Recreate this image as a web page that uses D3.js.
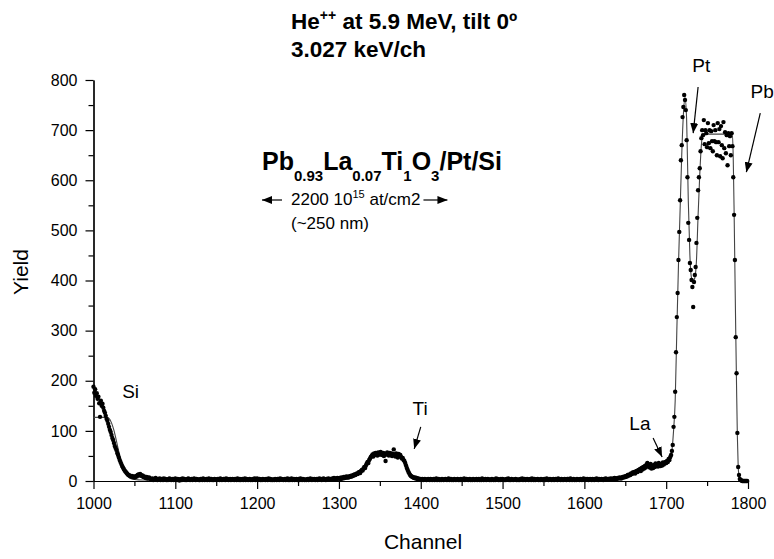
<!DOCTYPE html>
<html>
<head>
<meta charset="utf-8">
<script src="https://cdn.jsdelivr.net/npm/d3@7"></script>
<style>
  body { margin: 0; background: #fff; }
  svg text { font-family: "Liberation Sans", Arial, sans-serif; fill: #000; }
</style>
</head>
<body>
<svg id="chart" width="774" height="559"></svg>
<script>
  // measured spectrum, one value per channel
  var siStart = 1000;
  var siCounts = [
    188, 176, 183, 170, 175, 164, 168, 155, 128, 160,
    150, 154, 146, 140, 136, 130, 124, 120, 114, 108,
    102, 98, 92, 86, 82, 76, 70, 66, 62, 56,
    52, 47, 42, 38, 34, 30, 27, 24, 21, 19,
    17, 15, 13, 12, 11, 10, 9, 10, 8, 9,
    7, 8, 10, 9, 12, 13, 11, 14, 12, 10,
    11, 8, 9, 7, 6, 8, 5, 6, 7, 5
  ];

  var lowBgStart = 1070;
  var lowBgCounts = [
    4, 3, 5, 2, 4, 3, 6, 3, 2, 4,
    3, 5, 2, 3, 4, 2, 5, 3, 4, 2,
    3, 2, 4, 5, 3, 2, 3, 4, 2, 3,
    5, 3, 2, 4, 3, 1, 3, 4, 2, 5,
    3, 4, 2, 3, 2, 4, 5, 3, 2, 3,
    4, 2, 3, 5, 3, 2, 4, 3, 3, 2,
    2, 4, 3, 2, 5, 3, 2, 3, 4, 2,
    3, 5, 2, 3, 4, 2, 3, 2, 4, 3,
    2, 3, 4, 3, 2, 5, 3, 2, 3, 4,
    3, 2, 5, 3, 4, 2, 3, 4, 2, 3,
    4, 3, 2, 4, 3, 2, 5, 3, 2, 4,
    2, 3, 4, 2, 3, 5, 2, 4, 3, 2,
    3, 4, 2, 3, 2, 4, 3, 5, 2, 3,
    5, 2, 3, 4, 2, 3, 2, 4, 3, 3,
    2, 4, 3, 2, 5, 3, 4, 2, 3, 2,
    3, 2, 4, 3, 2, 4, 3, 2, 5, 3,
    4, 3, 2, 3, 4, 2, 3, 5, 2, 4,
    2, 3, 5, 2, 3, 4, 2, 3, 4, 2,
    3, 4, 2, 5, 3, 2, 4, 3, 2, 3,
    2, 3, 4, 2, 3, 5, 3, 2, 4, 3,
    4, 2, 3, 4, 2, 3, 5, 3, 4, 2,
    3, 5, 4, 3, 2, 4, 3, 5, 4, 3,
    4, 3, 5, 4, 6, 3, 5, 4, 6, 5,
    5, 6, 4, 7, 5, 6, 8, 6, 7, 9
  ];

  var tiStart = 1310;
  var tiCounts = [
    8, 7, 9, 8, 10, 9, 11, 10, 12, 13,
    12, 14, 15, 14, 17, 18, 16, 20, 22, 21,
    25, 28, 26, 31, 35, 38, 36, 42, 45, 48,
    50, 53, 49, 55, 52, 56, 54, 51, 57, 55,
    53, 58, 54, 52, 56, 50, 55, 40, 53, 57,
    54, 51, 56, 52, 55, 50, 54, 63, 53, 49,
    55, 51, 47, 54, 50, 52, 48, 45, 46, 42,
    40, 36, 31, 26, 22, 18, 15, 12, 10, 9,
    8, 7, 6, 7, 5, 6, 4, 5, 4, 3,
    4, 3, 4, 2, 3, 4, 3, 2, 3, 4
  ];

  var midBgStart = 1410;
  var midBgCounts = [
    3, 2, 4, 3, 2, 3, 4, 2, 3, 5,
    2, 3, 4, 2, 3, 2, 4, 3, 2, 3,
    4, 3, 2, 3, 5, 2, 3, 4, 2, 3,
    2, 4, 3, 2, 3, 4, 2, 3, 2, 4,
    3, 2, 3, 5, 2, 3, 4, 3, 2, 3,
    4, 2, 3, 2, 4, 3, 2, 3, 4, 2,
    3, 4, 2, 3, 2, 5, 3, 2, 3, 4,
    2, 3, 4, 3, 2, 3, 2, 4, 3, 2,
    3, 2, 5, 3, 4, 2, 3, 2, 4, 3,
    4, 3, 2, 3, 2, 4, 3, 5, 2, 3,
    2, 4, 3, 2, 3, 3, 4, 2, 3, 2,
    3, 2, 4, 3, 5, 2, 3, 4, 2, 3,
    4, 3, 2, 3, 4, 2, 5, 3, 2, 4,
    2, 3, 3, 4, 2, 3, 2, 4, 3, 2,
    3, 4, 2, 3, 5, 3, 2, 3, 4, 3,
    2, 3, 4, 2, 3, 4, 3, 2, 5, 3,
    3, 2, 4, 3, 2, 3, 4, 3, 2, 4,
    4, 3, 2, 5, 3, 2, 3, 4, 2, 3,
    2, 4, 3, 3, 2, 4, 3, 2, 3, 5,
    3, 2, 4, 3, 4, 2, 3, 4, 3, 2,
    4, 3, 2, 4, 3, 5, 3, 2, 4, 3,
    3, 4, 3, 2, 4, 3, 5, 4, 3, 4,
    4, 3, 5, 4, 3, 5, 4, 6, 5, 4,
    5, 6, 5, 7, 6, 5, 7, 8, 7, 9,
    8, 10, 9, 12, 11, 13, 12, 15, 14, 17
  ];

  var heavyStart = 1660;
  var heavyCounts = [
    16, 18, 15, 19, 20, 18, 22, 21, 24, 20,
    26, 23, 28, 25, 30, 27, 33, 36, 29, 31,
    27, 34, 25, 30, 26, 32, 28, 35, 30, 33,
    29, 36, 32, 30, 34, 31, 37, 33, 35, 38,
    36, 40, 38, 44, 42, 48, 52, 60, 72, 108,
    128, 178, 257, 327, 375, 441, 497, 560, 640, 670,
    726, 746, 770, 760, 740, 680, 606, 515, 481, 435,
    421, 401, 387, 347, 397, 411, 427, 475, 525, 580,
    606, 624, 658, 684, 700, 690, 720, 672, 700, 694,
    666, 714, 674, 700, 664, 698, 678, 658, 710, 678,
    700, 676, 650, 714, 676, 702, 648, 708, 670, 644,
    716, 664, 696, 654, 690, 630, 694, 668, 688, 650,
    694, 668, 606, 531, 441, 287, 215, 96, 28, 12,
    4, 2, 1, 0, 0, 0, 0, 0, 0, 0
  ];

  // simulated spectrum (fit)
  var fitChannels = [1000, 1016, 1019, 1022, 1025, 1028, 1031, 1034, 1037, 1040,
    1044, 1050, 1060, 1300, 1312, 1320, 1328, 1334, 1338, 1342,
    1376, 1380, 1383, 1386, 1390, 1396, 1405, 1640, 1655, 1665,
    1672, 1680, 1700, 1704, 1707, 1709, 1711, 1713, 1715, 1717,
    1719, 1721, 1723, 1725, 1727, 1729, 1731, 1733, 1735, 1737,
    1739, 1741, 1743, 1745, 1781, 1782, 1783, 1784, 1785, 1786,
    1787, 1788, 1789, 1790, 1792, 1800];
  var fitYields = [127, 127, 125, 116, 101, 80, 58, 38, 23, 13,
    6, 3, 2, 2, 4, 9, 18, 32, 44, 50,
    50, 44, 30, 18, 8, 3, 2, 3, 8, 18,
    26, 30, 33, 40, 60, 100, 160, 300, 430, 540,
    650, 730, 765, 720, 560, 450, 405, 400, 405, 440,
    530, 610, 670, 692, 692, 640, 540, 420, 300, 190,
    90, 30, 10, 3, 0, 0];

  var xMajorTicks = [1000, 1100, 1200, 1300, 1400, 1500, 1600, 1700, 1800];
  var xMinorTicks = [1050, 1150, 1250, 1350, 1450, 1550, 1650, 1750];
  var yMajorTicks = [0, 100, 200, 300, 400, 500, 600, 700, 800];
  var yMinorTicks = [50, 150, 250, 350, 450, 550, 650, 750];

  // element labels: [text, channel, yield]
  var peakLabels = [
    ['Si', 1035, 166],
    ['Ti', 1390, 132],
    ['La', 1655, 102],
    ['Pt', 1732, 816],
    ['Pb', 1803, 764]
  ];
  // arrows: [fromChannel, fromYield, toChannel, toYield]
  var peakArrows = [
    [1400, 108, 1392, 64],
    [1684, 86, 1695, 48],
    [1739, 786, 1733, 694],
    [1815, 734, 1798, 616]
  ];

  var formulaParts = [['Pb', '0.93'], ['La', '0.07'], ['Ti', '1'], ['O', '3'], ['/Pt/Si', '']];

  var svg = d3.select('#chart');

  var x = d3.scaleLinear().domain([1000, 1800]).range([93.5, 748]);
  var y = d3.scaleLinear().domain([0, 800]).range([481, 80]);

  function toPoints(start, counts) {
    return counts.map(function(v, i) { return { ch: start + i, v: v }; });
  }

  var spectrum = [].concat(
    toPoints(siStart, siCounts),
    toPoints(lowBgStart, lowBgCounts),
    toPoints(tiStart, tiCounts),
    toPoints(midBgStart, midBgCounts),
    toPoints(heavyStart, heavyCounts)
  );

  var fit = fitChannels.map(function(c, i) { return { ch: c, v: fitYields[i] }; });

  svg.append('defs').append('marker')
    .attr('id', 'head')
    .attr('markerUnits', 'userSpaceOnUse')
    .attr('markerWidth', 10)
    .attr('markerHeight', 8)
    .attr('refX', 10)
    .attr('refY', 4)
    .attr('orient', 'auto')
    .append('path')
    .attr('d', 'M0,0L10,4L0,8Z')
    .attr('fill', '#000');

  // axes
  svg.append('g')
    .attr('transform', 'translate(0,481)')
    .call(d3.axisBottom(x).tickValues(xMajorTicks).tickFormat(d3.format('d'))
      .tickSize(8).tickSizeOuter(0).tickPadding(9));

  svg.append('g')
    .attr('transform', 'translate(0,481)')
    .call(d3.axisBottom(x).tickValues(xMinorTicks).tickFormat('')
      .tickSize(5).tickSizeOuter(0));

  svg.append('g')
    .attr('transform', 'translate(93.5,0)')
    .call(d3.axisLeft(y).tickValues(yMajorTicks).tickFormat(d3.format('d'))
      .tickSize(8).tickSizeOuter(0).tickPadding(8));

  svg.append('g')
    .attr('transform', 'translate(93.5,0)')
    .call(d3.axisLeft(y).tickValues(yMinorTicks).tickFormat('')
      .tickSize(5).tickSizeOuter(0));

  svg.selectAll('.domain, .tick line')
    .attr('stroke', '#000')
    .attr('stroke-width', 1.2);

  svg.selectAll('.tick text')
    .style('font-size', '16px')
    .style('font-family', '"Liberation Sans", Arial, sans-serif');

  svg.append('text')
    .attr('transform', 'translate(28,272) rotate(-90)')
    .attr('text-anchor', 'middle')
    .style('font-size', '21px')
    .text('Yield');

  svg.append('text')
    .attr('x', 423)
    .attr('y', 549)
    .attr('text-anchor', 'middle')
    .style('font-size', '21px')
    .text('Channel');

  // simulation line
  svg.append('path')
    .datum(fit)
    .attr('fill', 'none')
    .attr('stroke', '#444')
    .attr('stroke-width', 1.1)
    .attr('d', d3.line()
      .x(function(d) { return x(d.ch); })
      .y(function(d) { return y(d.v); })
      .curve(d3.curveMonotoneX));

  // measured points
  svg.append('g')
    .selectAll('circle')
    .data(spectrum)
    .enter().append('circle')
    .attr('cx', function(d) { return x(d.ch); })
    .attr('cy', function(d) { return y(d.v); })
    .attr('r', 2.2)
    .attr('fill', '#000');

  // peak labels and arrows
  svg.append('g')
    .selectAll('text')
    .data(peakLabels)
    .enter().append('text')
    .attr('x', function(d) { return x(d[1]); })
    .attr('y', function(d) { return y(d[2]); })
    .style('font-size', '19px')
    .text(function(d) { return d[0]; });

  svg.append('g')
    .selectAll('line')
    .data(peakArrows)
    .enter().append('line')
    .attr('x1', function(d) { return x(d[0]); })
    .attr('y1', function(d) { return y(d[1]); })
    .attr('x2', function(d) { return x(d[2]); })
    .attr('y2', function(d) { return y(d[3]); })
    .attr('stroke', '#000')
    .attr('stroke-width', 1.2)
    .attr('marker-end', 'url(#head)');

  // beam conditions
  var title = svg.append('text')
    .attr('x', 291)
    .attr('y', 29)
    .style('font-size', '22.5px')
    .style('font-weight', 'bold');
  title.append('tspan').text('He');
  title.append('tspan').attr('dy', -9).style('font-size', '14px').text('++');
  title.append('tspan').attr('dy', 9).text(' at 5.9 MeV, tilt 0\u00ba');

  svg.append('text')
    .attr('x', 291)
    .attr('y', 57)
    .style('font-size', '22.5px')
    .style('font-weight', 'bold')
    .text('3.027 keV/ch');

  // sample composition
  var formula = svg.append('text')
    .attr('x', 262)
    .attr('y', 170)
    .style('font-size', '25px')
    .style('font-weight', 'bold');
  var drop = 0;
  formulaParts.forEach(function(p) {
    formula.append('tspan').attr('dy', -drop).text(p[0]);
    drop = 0;
    if (p[1]) {
      formula.append('tspan').attr('dy', 11).style('font-size', '15px').text(p[1]);
      drop = 11;
    }
  });

  var thick = svg.append('text')
    .attr('x', 291)
    .attr('y', 205)
    .style('font-size', '17px');
  thick.append('tspan').text('2200 10');
  thick.append('tspan').attr('dy', -7).style('font-size', '11px').text('15');
  thick.append('tspan').attr('dy', 7).text(' at/cm2');

  svg.append('text')
    .attr('x', 291)
    .attr('y', 229)
    .style('font-size', '17px')
    .text('(~250 nm)');

  var thickEnd = 291 + thick.node().getComputedTextLength();

  svg.append('line')
    .attr('x1', 282).attr('y1', 200)
    .attr('x2', 262).attr('y2', 200)
    .attr('stroke', '#000')
    .attr('stroke-width', 1.2)
    .attr('marker-end', 'url(#head)');

  svg.append('line')
    .attr('x1', thickEnd + 3).attr('y1', 200)
    .attr('x2', thickEnd + 27).attr('y2', 200)
    .attr('stroke', '#000')
    .attr('stroke-width', 1.2)
    .attr('marker-end', 'url(#head)');
</script>
</body>
</html>
